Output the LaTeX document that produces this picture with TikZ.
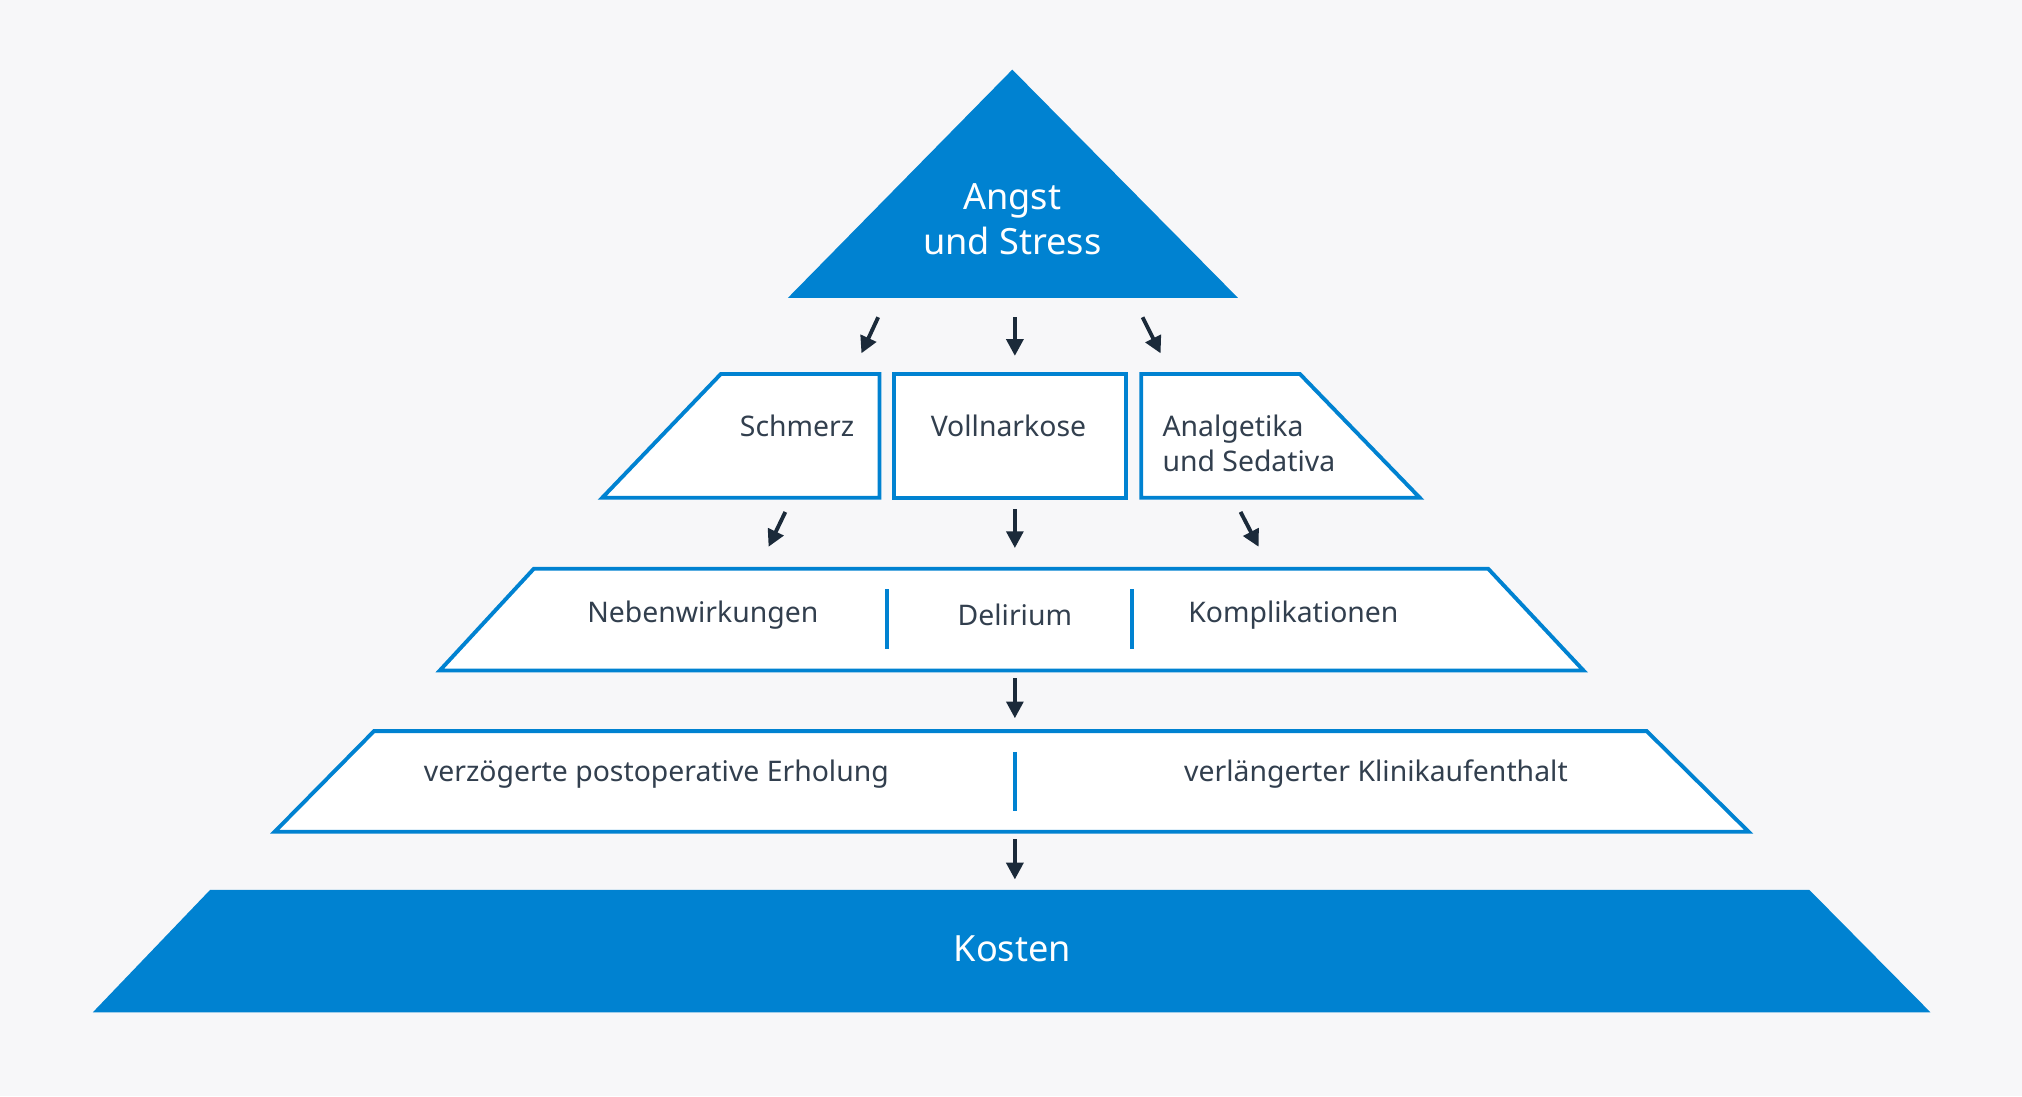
\documentclass[tikz,border=0pt]{standalone}
\usepackage{fontspec}
\setmainfont{Noto Sans}
\usetikzlibrary{arrows.meta}
\definecolor{bg}{HTML}{F7F7F9}
\definecolor{blu}{HTML}{0082D1}
\definecolor{dk}{HTML}{1B2A3A}
\tikzset{
 box/.style={draw=blu,line width=3pt,fill=white,line join=miter},
 arr/.style={draw=dk,line width=3pt,-{Triangle[length=13pt,width=13pt]}},
 lbl/.style={font=\fontsize{22}{27}\selectfont,text=dk!90,align=left},
 blbl/.style={font=\fontsize{28}{35}\selectfont\bfseries,text=white,align=center},
 sep/.style={draw=blu,line width=3pt}
}
\begin{document}
\begin{tikzpicture}[x=1pt,y=-1pt]
\fill[bg] (0,0) rectangle (1568,850);
\useasboundingbox (0,0) rectangle (1568,850);
% top triangle
\fill[blu] (785,54) -- (960,231) -- (611,231) -- cycle;
\node[blbl] (top) at (785,170) {Angst\\und Stress};
% row 1
\draw[box] (467,386) -- (559,290) -- (682,290) -- (682,386) -- cycle;
\draw[box] (693,290) rectangle (873,386);
\draw[box] (885,290) -- (1008,290) -- (1101,386) -- (885,386) -- cycle;
\node[lbl,anchor=east] (schmerz) at (666,330) {Schmerz};
\node[lbl] (voll) at (782,330) {Vollnarkose};
\node[lbl,anchor=west] (analg) at (898,344) {Analgetika\\und Sedativa};
% arrows
\coordinate (a1s) at (681,246); \coordinate (a1e) at (668,274);
\coordinate (a2s) at (787,246); \coordinate (a2e) at (787,276);
\coordinate (a3s) at (886,246); \coordinate (a3e) at (900,274);
\draw[arr] (a1s) -- (a1e); \draw[arr] (a2s) -- (a2e); \draw[arr] (a3s) -- (a3e);
\coordinate (b1s) at (609,397); \coordinate (b1e) at (596,424);
\coordinate (b2s) at (787,395); \coordinate (b2e) at (787,425);
\coordinate (b3s) at (962,397); \coordinate (b3e) at (976,424);
\draw[arr] (b1s) -- (b1e); \draw[arr] (b2s) -- (b2e); \draw[arr] (b3s) -- (b3e);
% row 2
\draw[box] (341,520) -- (414,441) -- (1154,441) -- (1228,520) -- cycle;
\draw[sep] (688,457) -- (688,503);
\draw[sep] (878,457) -- (878,503);
\node[lbl] (neben) at (545,477) {Nebenwirkungen};
\node[lbl] (delir) at (787,477) {Delirium};
\node[lbl] (kompl) at (1003,477) {Komplikationen};
\coordinate (c1s) at (787,526); \coordinate (c1e) at (787,557);
\draw[arr] (c1s) -- (c1e);
% row 3
\draw[box] (213,645) -- (290,567) -- (1277,567) -- (1356,645) -- cycle;
\draw[sep] (787,583) -- (787,629);
\node[lbl] (verz) at (509,600) {verzögerte postoperative Erholung};
\node[lbl] (verl) at (1067,600) {verlängerter Klinikaufenthalt};
\coordinate (d1s) at (787,651); \coordinate (d1e) at (787,682);
\draw[arr] (d1s) -- (d1e);
% bottom
\fill[blu] (72,785) -- (163,690) -- (1403,690) -- (1497,785) -- cycle;
\node[blbl] (kosten) at (785,736) {Kosten};
\end{tikzpicture}
\end{document}
